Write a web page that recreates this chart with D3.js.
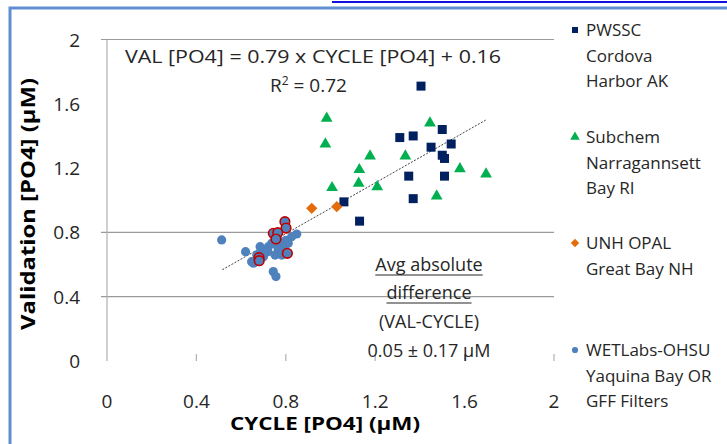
<!DOCTYPE html>
<html>
<head>
<meta charset="utf-8">
<script src="https://cdn.jsdelivr.net/npm/d3@7"></script>
<style>
  body { margin: 0; background: #fff; }
  svg { display: block; }
  text { font-family: "Open Sans", "DejaVu Sans", sans-serif; fill: #262626; }
</style>
</head>
<body>
<script>
// data: [CYCLE, Validation] in µM
const pwssc = [[1.405,1.71],[1.31,1.39],[1.37,1.40],[1.50,1.44],[1.54,1.35],[1.45,1.33],
  [1.50,1.28],[1.51,1.26],[1.35,1.15],[1.51,1.15],[1.37,1.01],[1.06,0.99],[1.13,0.87]];
const subchem = [[0.983,1.51],[0.977,1.35],[1.445,1.48],[1.177,1.275],[1.335,1.275],[1.129,1.19],
  [1.126,1.105],[1.007,1.078],[1.209,1.084],[1.579,1.196],[1.696,1.163],[1.475,1.026]];
const unhOpal = [[0.916,0.95],[1.028,0.96]];
const wetlabs = [[0.513,0.753],[0.620,0.680],[0.647,0.618],[0.655,0.608],[0.744,0.556],[0.756,0.525],
  [0.849,0.790],[0.697,0.690],[0.685,0.711],[0.722,0.711],[0.737,0.732],[0.774,0.742],[0.789,0.711],
  [0.811,0.732],[0.826,0.773],[0.766,0.690],[0.752,0.659],[0.782,0.659],[0.700,0.649],[0.72,0.68],
  [0.76,0.72],[0.80,0.75],[0.67,0.66]];
const wetlabsRinged = [[0.796,0.867],[0.801,0.827],[0.744,0.794],[0.764,0.798],[0.756,0.759],
  [0.807,0.670],[0.680,0.643],[0.681,0.624]];
const slope = 0.79, intercept = 0.16, fitRange = [0.516, 1.694];

const xTicks = [0, 0.4, 0.8, 1.2, 1.6, 2];
const yTicks = [0, 0.4, 0.8, 1.2, 1.6, 2];
const gridValues = [0.4, 0.8, 2];
const legendLabels = [["PWSSC","Cordova","Harbor AK"],["Subchem","Narragannsett","Bay RI"],
  ["UNH OPAL","Great Bay NH"],["WETLabs-OHSU","Yaquina Bay OR","GFF Filters"]];
const colors = {pwssc:"#002060", subchem:"#00b050", unh:"#e46c0a", wet:"#4f81bd", ring:"#c00000"};

const width = 727, height = 444;
const svg = d3.select("body").append("svg").attr("width", width).attr("height", height);

const x = d3.scaleLinear().domain([0, 2]).range([107, 554]);
const y = d3.scaleLinear().domain([0, 2]).range([361, 39.5]);

// frame + cut-off link above
svg.append("line").attr("x1", 332).attr("x2", 727).attr("y1", 2).attr("y2", 2)
  .attr("stroke", "#1010e0").attr("stroke-width", 2);
svg.append("path").attr("d", "M10,444 V8 H727").attr("fill", "none")
  .attr("stroke", "#5f8fd2").attr("stroke-width", 3);

// grid
svg.selectAll(".grid").data(gridValues).enter().append("line")
  .attr("x1", 101).attr("x2", x(2)).attr("y1", d => y(d)).attr("y2", d => y(d))
  .attr("stroke", "#9a9a9a").attr("stroke-width", 1.2);
svg.append("line").attr("x1", x(0)).attr("x2", x(0)).attr("y1", y(2)).attr("y2", y(0))
  .attr("stroke", "#b0b0b0").attr("stroke-width", 1.2);
svg.selectAll(".xt").data(xTicks.slice(1)).enter().append("line")
  .attr("x1", d => x(d)).attr("x2", d => x(d)).attr("y1", y(0) - 7).attr("y2", y(0))
  .attr("stroke", "#b0b0b0").attr("stroke-width", 1.2);

// tick labels
const fmt = d => d === 0 || d === 2 ? String(d) : d.toFixed(1);
svg.selectAll(".yl").data(yTicks).enter().append("text")
  .attr("x", 80).attr("y", d => y(d) + 7).attr("text-anchor", "end")
  .attr("font-size", 19).text(fmt);
svg.selectAll(".xl").data(xTicks).enter().append("text")
  .attr("x", d => x(d)).attr("y", 408).attr("text-anchor", "middle")
  .attr("font-size", 19).text(fmt);

// axis titles
svg.append("text").attr("x", 325).attr("y", 430).attr("text-anchor", "middle")
  .attr("font-size", 17).attr("font-weight", "bold").style("fill", "#000")
  .attr("textLength", 190).attr("lengthAdjust", "spacingAndGlyphs").text("CYCLE [PO4] (µM)");
svg.append("text").attr("transform", "translate(35,204) rotate(-90)").attr("text-anchor", "middle")
  .attr("font-size", 19).attr("font-weight", "bold").style("fill", "#000")
  .attr("textLength", 252).attr("lengthAdjust", "spacingAndGlyphs").text("Validation [PO4] (µM)");

// equation
svg.append("text").attr("x", 125).attr("y", 63).attr("font-size", 19)
  .attr("textLength", 376).attr("lengthAdjust", "spacingAndGlyphs")
  .text("VAL [PO4] = 0.79 x CYCLE [PO4] + 0.16");
const r2 = svg.append("text").attr("x", 270).attr("y", 92).attr("font-size", 19);
r2.append("tspan").text("R");
r2.append("tspan").attr("font-size", 12).attr("dy", -7).text("2");
r2.append("tspan").attr("dy", 7).text(" = 0.72");

// trendline
svg.append("line").attr("x1", x(fitRange[0])).attr("y1", y(slope * fitRange[0] + intercept))
  .attr("x2", x(fitRange[1])).attr("y2", y(slope * fitRange[1] + intercept))
  .attr("stroke", "#404040").attr("stroke-width", 1).attr("stroke-dasharray", "2,1.5");

// points
const sq = d3.symbol().type(d3.symbolSquare).size(81);
svg.selectAll(".pw").data(pwssc).enter().append("path").attr("d", sq)
  .attr("transform", d => `translate(${x(d[0])},${y(d[1])})`).attr("fill", colors.pwssc);
const tri = d3.symbol().type(d3.symbolTriangle).size(60);
svg.selectAll(".sc").data(subchem).enter().append("path").attr("d", tri)
  .attr("transform", d => `translate(${x(d[0])},${y(d[1])})`).attr("fill", colors.subchem);
const dia = d3.symbol().type(d3.symbolSquare).size(64);
svg.selectAll(".un").data(unhOpal).enter().append("path").attr("d", dia)
  .attr("transform", d => `translate(${x(d[0])},${y(d[1])}) rotate(45)`).attr("fill", colors.unh);
svg.selectAll(".wl").data(wetlabs).enter().append("circle")
  .attr("cx", d => x(d[0])).attr("cy", d => y(d[1])).attr("r", 4.6).attr("fill", colors.wet);
svg.selectAll(".wr").data(wetlabsRinged).enter().append("circle")
  .attr("cx", d => x(d[0])).attr("cy", d => y(d[1])).attr("r", 4.8).attr("fill", colors.wet)
  .attr("stroke", colors.ring).attr("stroke-width", 1.6);

// avg difference note
const note = [["Avg absolute", true, 271], ["difference", true, 299], ["(VAL-CYCLE)", false, 328], ["0.05 \u00b1 0.17 µM", false, 357]];
note.forEach(n => {
  const t = svg.append("text").attr("x", 429).attr("y", n[2]).attr("text-anchor", "middle")
    .attr("font-size", 18).text(n[0]);
  if (n[1]) {
    const w = t.node().getComputedTextLength();
    svg.append("line").attr("x1", 429 - w / 2).attr("x2", 429 + w / 2)
      .attr("y1", n[2] + 4).attr("y2", n[2] + 4).attr("stroke", "#262626").attr("stroke-width", 1.2);
  }
});

// legend
const legendY = [30, 137, 243, 350];
const legendMarks = [
  d3.symbol().type(d3.symbolSquare).size(36)(),
  d3.symbol().type(d3.symbolTriangle).size(40)(),
  d3.symbol().type(d3.symbolSquare).size(36)(),
  d3.symbol().type(d3.symbolCircle).size(30)()
];
const legendColors = [colors.pwssc, colors.subchem, colors.unh, colors.wet];
legendLabels.forEach((lines, i) => {
  svg.append("path").attr("d", legendMarks[i])
    .attr("transform", `translate(575,${legendY[i]})` + (i === 2 ? " rotate(45)" : ""))
    .attr("fill", legendColors[i]);
  lines.forEach((s, j) => {
    svg.append("text").attr("x", 586).attr("y", legendY[i] + 6 + j * 25.5)
      .attr("font-size", 17).text(s);
  });
});
</script>
</body>
</html>
